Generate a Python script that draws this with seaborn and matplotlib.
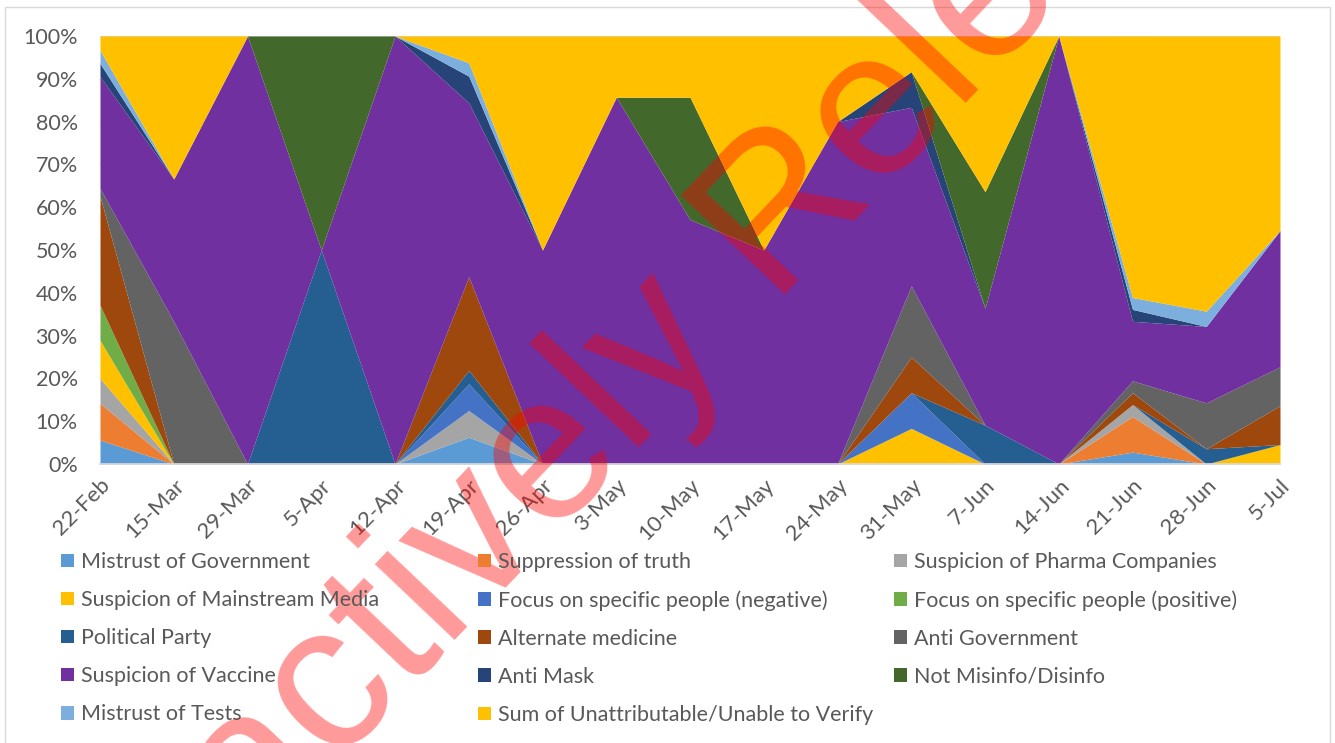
import numpy as np
import matplotlib
matplotlib.use("Agg")
import matplotlib.pyplot as plt
from matplotlib.patches import Patch, Rectangle
from matplotlib.ticker import PercentFormatter
import seaborn as sns

# Dates of each weekly sample
dates = ["22-Feb", "15-Mar", "29-Mar", "5-Apr", "12-Apr", "19-Apr", "26-Apr", "3-May",
         "10-May", "17-May", "24-May", "31-May", "7-Jun", "14-Jun", "21-Jun", "28-Jun", "5-Jul"]

# Share of each theme per week (%)
mistrust_gov = [5.6, 0, 0, 0, 0, 6.25, 0, 0, 0, 0, 0, 0, 0, 0, 2.78, 0, 0]
suppression = [8.6, 0, 0, 0, 0, 0, 0, 0, 0, 0, 0, 0, 0, 0, 8.33, 0, 0]
pharma = [5.8, 0, 0, 0, 0, 6.25, 0, 0, 0, 0, 0, 0, 0, 0, 2.78, 0, 0]
mainstream_media = [8.9, 0, 0, 0, 0, 0, 0, 0, 0, 0, 0, 8.33, 0, 0, 0, 0, 4.55]
focus_negative = [0, 0, 0, 0, 0, 6.25, 0, 0, 0, 0, 0, 8.33, 0, 0, 0, 0, 0]
focus_positive = [8.2, 0, 0, 0, 0, 0, 0, 0, 0, 0, 0, 0, 0, 0, 0, 0, 0]
political_party = [0, 0, 0, 50, 0, 3.125, 0, 0, 0, 0, 0, 0, 9.09, 0, 0, 3.57, 0]
alt_medicine = [25.5, 0, 0, 0, 0, 21.875, 0, 0, 0, 0, 0, 8.33, 0, 0, 2.78, 0, 9.09]
anti_gov = [1.8, 33.3, 0, 0, 0, 0, 0, 0, 0, 0, 0, 16.67, 0, 0, 2.78, 10.71, 9.09]
vaccine = [26.1, 33.3, 100, 0, 100, 40.625, 50, 85.7, 57.1, 50, 80, 41.67, 27.27, 100, 13.89, 17.86, 31.82]
anti_mask = [3.1, 0, 0, 0, 0, 6.25, 0, 0, 0, 0, 0, 8.33, 0, 0, 2.78, 0, 0]
not_misinfo = [0, 0, 0, 50, 0, 0, 0, 0, 28.6, 0, 0, 0, 27.27, 0, 0, 0, 0]
mistrust_tests = [3.1, 0, 0, 0, 0, 3.125, 0, 0, 0, 0, 0, 0, 0, 0, 2.78, 3.57, 0]
unattributable = [3.3, 33.4, 0, 0, 0, 6.25, 50, 14.3, 14.3, 50, 20, 8.33, 36.36, 0, 61.11, 64.29, 45.45]

labels = ["Mistrust of Government", "Suppression of truth", "Suspicion of Pharma Companies",
          "Suspicion of Mainstream Media", "Focus on specific people (negative)",
          "Focus on specific people (positive)", "Political Party", "Alternate medicine",
          "Anti Government", "Suspicion of Vaccine", "Anti Mask", "Not Misinfo/Disinfo",
          "Mistrust of Tests", "Sum of Unattributable/Unable to Verify"]
series = [mistrust_gov, suppression, pharma, mainstream_media, focus_negative, focus_positive,
          political_party, alt_medicine, anti_gov, vaccine, anti_mask, not_misinfo,
          mistrust_tests, unattributable]
colors = ["#5B9BD5", "#ED7D31", "#A5A5A5", "#FFC000", "#4472C4", "#70AD47", "#255E91",
          "#9E480E", "#636363", "#7030A0", "#264478", "#43682B", "#7CAFDD", "#FFC000"]

sns.set_theme(style="white")
plt.rcParams['font.family'] = ['Lato', 'DejaVu Sans']
txt_color = "#595959"

fig = plt.figure(figsize=(13.35, 7.43), dpi=100)
ax = fig.add_axes([100 / 1335, 1 - 464 / 743, 1180 / 1335, 428 / 743])

x = np.arange(len(dates))
ax.stackplot(x, *series, colors=colors, linewidth=0)

ax.set_xlim(0, len(dates) - 1)
ax.set_ylim(0, 100)
ax.set_yticks(range(0, 101, 10))
ax.yaxis.set_major_formatter(PercentFormatter(decimals=0))
ax.set_xticks(x, dates, rotation=45, ha='right', rotation_mode='anchor')
ax.tick_params(axis='x', length=0, pad=8, labelsize=16, labelcolor=txt_color)
ax.tick_params(axis='y', length=0, pad=16, labelsize=15.5, labelcolor=txt_color)
ax.yaxis.grid(True, color="#D9D9D9", linewidth=1)
ax.set_axisbelow(True)
for s in ['left', 'right', 'top']:
    ax.spines[s].set_visible(False)
ax.spines['bottom'].set_color("#D9D9D9")

# legend laid out row by row in three columns, like the original
col_x = [61 / 1335, 478 / 1335, 894 / 1335]
for c in range(3):
    idx = list(range(c, len(labels), 3))
    handles = [Patch(facecolor=colors[i], edgecolor='none') for i in idx]
    fig.legend(handles, [labels[i] for i in idx], loc='upper left',
               bbox_to_anchor=(col_x[c], 1 - 552 / 743), frameon=False,
               fontsize=15.5, labelcolor=txt_color, handlelength=0.6, handleheight=0.6,
               handletextpad=0.35, labelspacing=0.84, borderpad=0, borderaxespad=0)

# watermark stamp
fig.text(0.499, 0.542, "Proactively Released", rotation=46.5, fontsize=150,
         family=['Liberation Sans', 'DejaVu Sans'], color='red', alpha=0.4,
         ha='center', va='center')

fig.patches.append(Rectangle((5 / 1335, -0.01), 1325 / 1335, 1 - 7 / 743 + 0.01,
                             transform=fig.transFigure, fill=False,
                             edgecolor="#D9D9D9", linewidth=1))

fig.savefig("out.png", dpi=100)
